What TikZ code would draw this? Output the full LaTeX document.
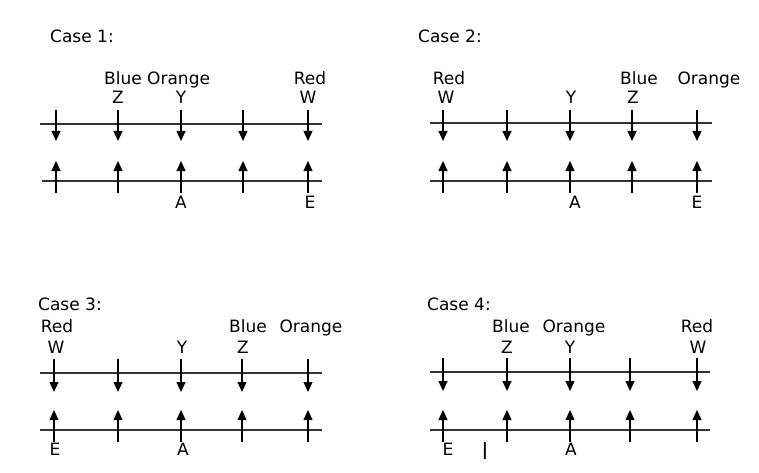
\documentclass[tikz,border=0pt]{standalone}
\usepackage{fontspec}
\setmainfont{DejaVu Sans}
\usetikzlibrary{arrows.meta}

\tikzset{
  lbl/.style={anchor=base, inner sep=0pt, font=\fontsize{17}{20}\selectfont, text=black},
  ttl/.style={lbl, anchor=base west},
  rail/.style={draw=black!80, line width=1.2pt},
  ray/.style={-{Triangle[length=10pt,width=9pt]}, line width=1.2pt, draw=black},
}

\begin{document}
\begin{tikzpicture}[x=1pt,y=-1pt]
    \useasboundingbox (0,0) rectangle (759,473);

    % Case 1
    \node[ttl] (Ca1) at (50,43) {Case 1:};
    \node[ttl] (Bl1) at (104,85) {Blue};
    \node[ttl] (Or1) at (147,85) {Orange};
    \node[lbl] (Re1) at (310,85) {Red};
    \node[lbl] (Z1) at (118,104) {Z};
    \node[lbl] (Y1) at (181,104) {Y};
    \node[lbl] (W1) at (308,104) {W};
    \node[lbl] (A1) at (181,208) {A};
    \node[lbl] (E1) at (310,208) {E};

    % Case 2
    \node[ttl] (Ca2) at (418,43) {Case 2:};
    \node[lbl] (Re2) at (449,85) {Red};
    \node[lbl] (Bl2) at (639,85) {Blue};
    \node[lbl] (Or2) at (709,85) {Orange};
    \node[lbl] (W2) at (446,104) {W};
    \node[lbl] (Y2) at (571,104) {Y};
    \node[lbl] (Z2) at (633,104) {Z};
    \node[lbl] (A2) at (575,208) {A};
    \node[lbl] (E2) at (697,208) {E};

    % Case 3
    \node[ttl] (Ca3) at (38,310) {Case 3:};
    \node[lbl] (Re3) at (57,332) {Red};
    \node[lbl] (Bl3) at (248,332) {Blue};
    \node[lbl] (Or3) at (311,332) {Orange};
    \node[lbl] (W3) at (56,353) {W};
    \node[lbl] (Y3) at (182,353) {Y};
    \node[lbl] (Z3) at (243,353) {Z};
    \node[lbl] (E3) at (55,455) {E};
    \node[lbl] (A3) at (183,455) {A};

    % Case 4
    \node[ttl] (Ca4) at (427,310) {Case 4:};
    \node[lbl] (Bl4) at (511,332) {Blue};
    \node[lbl] (Or4) at (574,332) {Orange};
    \node[lbl] (Re4) at (697,332) {Red};
    \node[lbl] (Z4) at (507,353) {Z};
    \node[lbl] (Y4) at (570,353) {Y};
    \node[lbl] (W4) at (698,353) {W};
    \node[lbl] (E4) at (448,455) {E};
    \node[lbl] (Bar4) at (485,455) {\textbf{|}};
    \node[lbl] (A4) at (571,455) {A};

    % rails
    \coordinate (L1t) at (40,124);  \coordinate (R1t) at (322,124);
    \coordinate (L1b) at (42,181);  \coordinate (R1b) at (322,181);
    \coordinate (L2t) at (430,123); \coordinate (R2t) at (712,123);
    \coordinate (L2b) at (430,181); \coordinate (R2b) at (712,181);
    \coordinate (L3t) at (40,373);  \coordinate (R3t) at (322,373);
    \coordinate (L3b) at (40,430);  \coordinate (R3b) at (322,430);
    \coordinate (L4t) at (430,372); \coordinate (R4t) at (710,372);
    \coordinate (L4b) at (430,430); \coordinate (R4b) at (710,430);
    \foreach \c in {1,2,3,4} {
        \draw[rail] (L\c t) -- (R\c t);
        \draw[rail] (L\c b) -- (R\c b);
    }

    % arrows, upper cases
    \foreach \x [count=\i] in {56,118,181,243,308} {
        \coordinate (a1\i) at (\x,110);
        \coordinate (b1\i) at (\x,141);
        \coordinate (c1\i) at (\x,193);
        \coordinate (d1\i) at (\x,161);
        \draw[ray] (a1\i) -- (b1\i);
        \draw[ray] (c1\i) -- (d1\i);
    }
    \foreach \x [count=\i] in {443,507,570,632,697} {
        \coordinate (a2\i) at (\x,110);
        \coordinate (b2\i) at (\x,141);
        \coordinate (c2\i) at (\x,193);
        \coordinate (d2\i) at (\x,161);
        \draw[ray] (a2\i) -- (b2\i);
        \draw[ray] (c2\i) -- (d2\i);
    }

    % arrows, lower cases
    \foreach \x [count=\i] in {54,118,181,242,308} {
        \coordinate (a3\i) at (\x,359);
        \coordinate (b3\i) at (\x,392);
        \coordinate (c3\i) at (\x,442);
        \coordinate (d3\i) at (\x,410);
        \draw[ray] (a3\i) -- (b3\i);
        \draw[ray] (c3\i) -- (d3\i);
    }
    \foreach \x [count=\i] in {443,507,570,630,697} {
        \coordinate (a4\i) at (\x,358);
        \coordinate (b4\i) at (\x,391);
        \coordinate (c4\i) at (\x,442);
        \coordinate (d4\i) at (\x,410);
        \draw[ray] (a4\i) -- (b4\i);
        \draw[ray] (c4\i) -- (d4\i);
    }

\end{tikzpicture}
\end{document}
